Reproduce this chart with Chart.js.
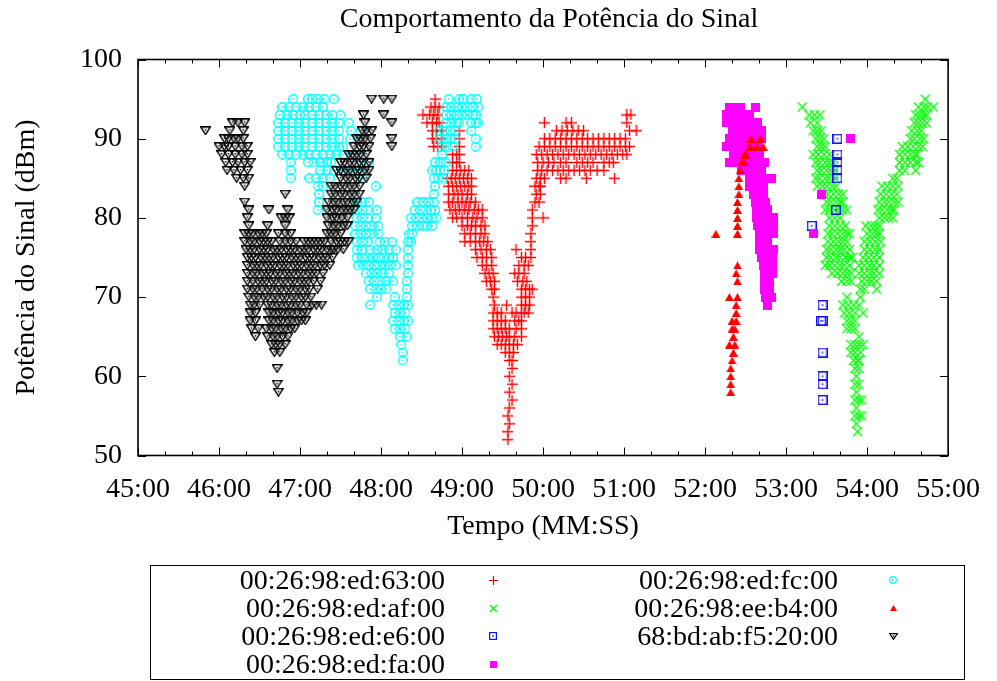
<!DOCTYPE html>
<html>
<head>
<meta charset="utf-8">
<title>Comportamento da Potência do Sinal</title>
<script src="https://cdn.jsdelivr.net/npm/chart.js@4.4.1/dist/chart.umd.min.js"></script>
<style>
  body { margin: 0; background: #fff; }
  #wrap { position: relative; width: 997px; height: 681px; font-family: "Liberation Serif", "Times New Roman", serif; color: #000; }
  #title { position: absolute; left: 138px; width: 822px; top: 1px; height: 34px; line-height: 34px; font-size: 28px; text-align: center; }
  #box { position: absolute; left: 150px; top: 565px; width: 813px; height: 113px; border: 1.5px solid #000; }
  .lbl { position: absolute; height: 34px; line-height: 34px; font-size: 28px; text-align: right; white-space: nowrap; }
  .mk { position: absolute; }
  canvas#chart { position: absolute; left: 0; top: 0; }
</style>
</head>
<body>
<div id="wrap">
  <canvas id="chart" width="997" height="681"></canvas>
  <div id="title">Comportamento da Potência do Sinal</div>
  <div id="box"></div>
</div>
<script>
// time is seconds past the hour (2700 = 45:00), signal in dBm
// each series is a list of [dBm, [times...]] rows
const macs = ['00:26:98:ed:63:00', '00:26:98:ed:af:00', '00:26:98:ed:e6:00', '00:26:98:ed:fa:00',
              '00:26:98:ed:fc:00', '00:26:98:ee:b4:00', '68:bd:ab:f5:20:00'];

const ed63 = [
  [95, [2920]],
  [94, [2917, 2920, 2923]],
  [93, [2911, 2916, 2919, 2922, 3062, 3065]],
  [92, [2914, 2918, 2921, 2923, 3001, 3017, 3021, 3062]],
  [91, [2918, 2921, 2925, 2938, 3010, 3014, 3018, 3022, 3026, 3030, 3064, 3069]],
  [90, [2918, 2921, 2925, 2938, 3001, 3005, 3009, 3013, 3017, 3021, 3025, 3029, 3033, 3037, 3041, 3045, 3049, 3053, 3057, 3061]],
  [89, [2919, 2922, 2925, 2938, 2997, 3001, 3005, 3009, 3013, 3017, 3021, 3025, 3029, 3033, 3037, 3041, 3045, 3049, 3053, 3057, 3061, 3064]],
  [88, [2933, 2936, 2938, 2995, 2999, 3003, 3007, 3011, 3015, 3019, 3023, 3027, 3031, 3035, 3039, 3043, 3047, 3051, 3055, 3059, 3062]],
  [87, [2933, 2936, 2938, 2996, 3000, 3004, 3008, 3013, 3017, 3025, 3029, 3033, 3037, 3045, 3049, 3052]],
  [86, [2933, 2936, 2939, 2942, 2945, 2996, 2999, 3003, 3007, 3011, 3015, 3019, 3023, 3027, 3031, 3035, 3040, 3045]],
  [85, [2929, 2932, 2935, 2938, 2941, 2944, 2947, 2995, 2998, 3001, 3013, 3017, 3032, 3053]],
  [84, [2930, 2933, 2936, 2939, 2942, 2945, 2947, 2994, 2997, 2998]],
  [83, [2930, 2934, 2937, 2940, 2944, 2947, 2995, 2998]],
  [82, [2930, 2933, 2937, 2940, 2943, 2946, 2950, 2994, 2997]],
  [81, [2931, 2935, 2938, 2942, 2945, 2949, 2952, 2955, 2992]],
  [80, [2933, 2936, 2940, 2944, 2948, 2951, 2955, 2992, 3000]],
  [79, [2940, 2944, 2947, 2950, 2954, 2957, 2992]],
  [78, [2942, 2946, 2950, 2954, 2957, 2991]],
  [77, [2942, 2946, 2950, 2953, 2956, 2959, 2991]],
  [76, [2950, 2954, 2958, 2961, 2980, 2991]],
  [75, [2951, 2955, 2958, 2962, 2984, 2987, 2991]],
  [74, [2955, 2958, 2962, 2982, 2986, 2989]],
  [73, [2957, 2960, 2963, 2979, 2982, 2986]],
  [72, [2958, 2961, 2964, 2981, 2985, 2988]],
  [71, [2962, 2964, 2984, 2987, 2990, 2992]],
  [70, [2963, 2984, 2987, 2990]],
  [69, [2964, 2973, 2984, 2987, 2990]],
  [68, [2963, 2966, 2969, 2977, 2980, 2984, 2986, 2989]],
  [67, [2963, 2966, 2969, 2972, 2979, 2982, 2984]],
  [66, [2963, 2966, 2969, 2972, 2975, 2980, 2984]],
  [65, [2964, 2967, 2970, 2973, 2975, 2979, 2984]],
  [64, [2966, 2969, 2972, 2975, 2978, 2981]],
  [63, [2972, 2975, 2978]],
  [62, [2975, 2977]],
  [61, [2977]],
  [60, [2975]],
  [59, [2977]],
  [58, [2975]],
  [57, [2977]],
  [56, [2975]],
  [55, [2974]],
  [54, [2975]],
  [53, [2974]],
  [52, [2974]]
];

const edaf = [
  [95, [3283]],
  [94, [3192, 3278, 3282, 3285, 3289]],
  [93, [3197, 3201, 3205, 3276, 3279, 3282, 3284]],
  [92, [3198, 3203, 3275, 3278, 3281, 3284]],
  [91, [3200, 3203, 3206, 3273, 3277, 3280]],
  [90, [3202, 3205, 3208, 3272, 3275, 3279, 3282]],
  [89, [3203, 3206, 3209, 3266, 3270, 3274, 3278, 3281]],
  [88, [3200, 3204, 3208, 3212, 3264, 3268, 3272, 3275, 3277]],
  [87, [3202, 3205, 3209, 3212, 3215, 3264, 3268, 3272, 3276, 3278]],
  [86, [3203, 3206, 3210, 3213, 3216, 3264, 3268, 3276]],
  [85, [3202, 3205, 3209, 3212, 3216, 3259, 3262]],
  [84, [3203, 3207, 3210, 3214, 3217, 3251, 3255, 3259, 3263]],
  [83, [3208, 3211, 3215, 3219, 3222, 3250, 3254, 3258, 3262]],
  [82, [3210, 3213, 3217, 3220, 3222, 3249, 3253, 3256, 3260, 3263]],
  [81, [3209, 3212, 3216, 3219, 3222, 3225, 3248, 3251, 3255, 3258, 3260]],
  [80, [3212, 3216, 3220, 3249, 3253, 3256, 3259]],
  [79, [3212, 3216, 3220, 3224, 3239, 3243, 3246, 3249]],
  [78, [3211, 3214, 3218, 3222, 3225, 3227, 3240, 3244, 3247, 3249]],
  [77, [3211, 3215, 3219, 3222, 3225, 3238, 3242, 3246, 3250]],
  [76, [3210, 3213, 3217, 3220, 3223, 3227, 3238, 3242, 3246, 3249]],
  [75, [3210, 3213, 3217, 3220, 3224, 3227, 3229, 3237, 3241, 3245, 3249]],
  [74, [3209, 3212, 3216, 3220, 3223, 3227, 3234, 3238, 3242, 3245, 3249]],
  [73, [3214, 3218, 3222, 3225, 3228, 3234, 3238, 3242, 3245, 3249]],
  [72, [3221, 3225, 3228, 3236, 3240, 3243, 3247]],
  [71, [3235, 3238, 3247]],
  [70, [3225, 3235]],
  [69, [3222, 3226, 3230, 3234]],
  [68, [3223, 3227, 3231, 3237]],
  [67, [3225, 3228, 3231]],
  [66, [3225, 3228, 3231]],
  [65, [3234]],
  [64, [3228, 3231, 3234, 3237]],
  [63, [3228, 3231, 3235]],
  [62, [3230, 3233, 3234]],
  [61, [3231, 3234]],
  [60, [3232]],
  [59, [3231, 3234]],
  [58, [3232]],
  [57, [3231, 3234, 3236]],
  [56, [3232]],
  [55, [3231, 3234, 3236]],
  [54, [3232]],
  [53, [3233]]
];

const ede6 = [
  [90, [3218]],
  [88, [3218]],
  [87, [3218]],
  [86, [3218]],
  [85, [3218]],
  [81, [3217]],
  [79, [3199]],
  [69, [3207]],
  [67, [3206, 3207]],
  [63, [3207]],
  [60, [3207]],
  [59, [3207]],
  [57, [3207]]
];

const edfa = [
  [94, [3138, 3142, 3146, 3157]],
  [93, [3136, 3140, 3144, 3148, 3153]],
  [92, [3136, 3140, 3144, 3148, 3152, 3156, 3159]],
  [91, [3140, 3144, 3148, 3152, 3156, 3160, 3162]],
  [90, [3138, 3142, 3146, 3150, 3154, 3158, 3162, 3228]],
  [89, [3136, 3140, 3144, 3148, 3152, 3156, 3159]],
  [88, [3141, 3145, 3149, 3153, 3157, 3160]],
  [87, [3138, 3142, 3146, 3150, 3154, 3158, 3162, 3164]],
  [86, [3147, 3151, 3155, 3159, 3162]],
  [85, [3153, 3157, 3161, 3163, 3169]],
  [84, [3153, 3157, 3161, 3163]],
  [83, [3156, 3160, 3163, 3206]],
  [82, [3157, 3161, 3165]],
  [81, [3158, 3162, 3166]],
  [80, [3158, 3162, 3166, 3171]],
  [79, [3159, 3163, 3167, 3171]],
  [78, [3160, 3164, 3168, 3171, 3200]],
  [77, [3160, 3164, 3166]],
  [76, [3160, 3164, 3168, 3171]],
  [75, [3162, 3166, 3170]],
  [74, [3163, 3167, 3170]],
  [73, [3164, 3168, 3170]],
  [72, [3164, 3168]],
  [71, [3164, 3168]],
  [70, [3165, 3169]],
  [69, [3166]]
];

const edfc = [
  [95, [2815, 2826, 2829, 2833, 2838, 2845, 2930, 2938, 2941, 2947, 2951]],
  [94, [2807, 2812, 2817, 2822, 2827, 2832, 2837, 2928, 2932, 2936, 2940, 2944, 2948, 2952]],
  [93, [2805, 2810, 2815, 2820, 2824, 2829, 2834, 2839, 2844, 2850, 2928, 2932, 2936, 2940, 2944, 2948, 2950]],
  [92, [2804, 2809, 2814, 2819, 2824, 2829, 2834, 2839, 2844, 2849, 2856, 2928, 2932, 2936, 2938, 2947, 2950, 2952]],
  [91, [2804, 2809, 2814, 2819, 2824, 2829, 2834, 2839, 2844, 2849, 2858, 2865, 2923, 2927, 2931, 2935, 2947]],
  [90, [2804, 2809, 2814, 2819, 2824, 2829, 2834, 2839, 2844, 2849, 2857, 2864, 2924, 2928, 2932, 2935, 2950]],
  [89, [2804, 2809, 2814, 2819, 2824, 2829, 2834, 2839, 2844, 2849, 2852, 2925, 2929, 2933, 2950]],
  [88, [2807, 2812, 2817, 2822, 2827, 2832, 2837, 2842, 2847, 2852, 2860, 2925]],
  [87, [2813, 2826, 2830, 2835, 2840, 2843, 2871, 2920, 2924, 2928]],
  [86, [2813, 2835, 2840, 2845, 2852, 2857, 2862, 2867, 2918, 2921, 2924, 2927]],
  [85, [2813, 2827, 2832, 2837, 2842, 2867, 2919, 2922, 2926]],
  [84, [2833, 2837, 2876, 2920]],
  [83, [2834, 2919]],
  [82, [2834, 2862, 2866, 2871, 2907, 2911, 2915, 2919]],
  [81, [2833, 2862, 2866, 2870, 2877, 2905, 2909, 2913, 2917, 2920]],
  [80, [2862, 2866, 2870, 2876, 2902, 2906, 2910, 2914, 2918, 2921]],
  [79, [2861, 2865, 2869, 2873, 2878, 2903, 2907, 2911, 2914, 2918]],
  [78, [2861, 2865, 2869, 2873, 2878, 2901, 2903]],
  [77, [2862, 2866, 2870, 2879, 2883, 2888, 2900, 2902]],
  [76, [2862, 2866, 2872, 2877, 2881, 2886, 2891, 2900]],
  [75, [2862, 2866, 2870, 2874, 2878, 2882, 2886, 2889, 2900]],
  [74, [2863, 2867, 2871, 2875, 2879, 2883, 2887, 2891, 2900]],
  [73, [2869, 2873, 2877, 2881, 2886, 2900]],
  [72, [2871, 2875, 2879, 2884, 2889, 2899]],
  [71, [2872, 2876, 2880, 2884, 2899]],
  [70, [2877, 2890, 2899]],
  [69, [2872, 2889, 2893, 2897, 2900]],
  [68, [2890, 2894, 2898]],
  [67, [2889, 2893, 2897, 2900]],
  [66, [2890, 2894, 2898]],
  [65, [2894, 2899]],
  [64, [2895]],
  [63, [2896]],
  [62, [2896]]
];

const eeb4 = [
  [90, [3154, 3161]],
  [89, [3153, 3158, 3163]],
  [88, [3149, 3150]],
  [87, [3147, 3149]],
  [86, [3146]],
  [85, [3145]],
  [84, [3145]],
  [83, [3145]],
  [82, [3144]],
  [81, [3144]],
  [80, [3144]],
  [79, [3144]],
  [78, [3128, 3144]],
  [74, [3144]],
  [73, [3143]],
  [72, [3144]],
  [70, [3138, 3144]],
  [69, [3143]],
  [68, [3143]],
  [67, [3140, 3143]],
  [66, [3140, 3142]],
  [65, [3141]],
  [64, [3138, 3142]],
  [63, [3141]],
  [62, [3140]],
  [61, [3139]],
  [60, [3139]],
  [59, [3139]],
  [58, [3139]]
];

const f520 = [
  [95, [2873, 2882, 2888]],
  [93, [2867, 2882]],
  [92, [2770, 2774, 2779, 2868, 2888]],
  [91, [2750, 2768, 2778, 2866, 2869, 2873]],
  [90, [2764, 2767, 2771, 2774, 2778, 2862, 2865, 2868, 2872, 2888]],
  [89, [2760, 2764, 2767, 2772, 2777, 2781, 2860, 2864, 2867, 2871, 2888]],
  [88, [2762, 2767, 2772, 2777, 2781, 2856, 2859, 2862, 2865, 2869]],
  [87, [2765, 2770, 2774, 2779, 2783, 2850, 2853, 2857, 2860, 2864, 2867, 2871]],
  [86, [2766, 2771, 2776, 2781, 2847, 2850, 2854, 2857, 2861, 2864, 2868, 2871]],
  [85, [2773, 2778, 2782, 2850, 2854, 2857, 2861, 2864, 2869]],
  [84, [2779, 2843, 2846, 2850, 2853, 2857, 2860, 2864]],
  [83, [2809, 2843, 2846, 2850, 2853, 2857, 2860, 2864]],
  [82, [2779, 2841, 2845, 2848, 2852, 2855, 2859, 2862]],
  [81, [2782, 2797, 2811, 2840, 2844, 2847, 2851, 2854, 2857, 2860]],
  [80, [2781, 2806, 2809, 2812, 2840, 2844, 2847, 2851, 2855]],
  [79, [2782, 2796, 2809, 2841, 2845, 2848, 2852, 2855]],
  [78, [2779, 2782, 2785, 2789, 2792, 2795, 2804, 2809, 2813, 2840, 2843, 2846, 2850]],
  [77, [2779, 2783, 2786, 2790, 2793, 2796, 2799, 2805, 2809, 2813, 2817, 2823, 2826, 2829, 2832, 2835, 2838, 2843, 2847, 2850, 2853, 2856]],
  [76, [2780, 2783, 2786, 2790, 2793, 2796, 2800, 2803, 2806, 2810, 2813, 2816, 2820, 2823, 2826, 2830, 2833, 2836, 2840, 2843, 2845, 2848, 2852]],
  [75, [2781, 2784, 2787, 2791, 2794, 2797, 2800, 2804, 2807, 2810, 2814, 2817, 2820, 2824, 2827, 2830, 2834, 2837, 2840, 2844]],
  [74, [2781, 2785, 2788, 2791, 2795, 2798, 2801, 2805, 2808, 2811, 2815, 2818, 2821, 2825, 2828, 2831, 2835, 2838, 2842]],
  [73, [2781, 2785, 2788, 2792, 2795, 2798, 2802, 2805, 2809, 2812, 2815, 2819, 2822, 2826, 2829, 2832, 2837]],
  [72, [2781, 2785, 2789, 2792, 2795, 2799, 2802, 2806, 2809, 2813, 2816, 2820, 2823, 2826, 2830, 2835]],
  [71, [2781, 2785, 2788, 2792, 2796, 2799, 2803, 2806, 2810, 2813, 2817, 2820, 2824, 2827, 2833]],
  [70, [2782, 2786, 2789, 2793, 2796, 2800, 2803, 2807, 2810, 2814, 2817, 2821, 2824, 2828]],
  [69, [2783, 2786, 2790, 2796, 2799, 2803, 2806, 2810, 2813, 2817, 2820, 2825, 2829, 2832, 2836]],
  [68, [2783, 2787, 2797, 2800, 2804, 2807, 2811, 2814, 2818, 2822, 2825]],
  [67, [2783, 2787, 2797, 2800, 2804, 2807, 2811, 2814, 2818, 2821, 2824]],
  [66, [2784, 2789, 2795, 2799, 2802, 2806, 2809, 2813, 2816]],
  [65, [2787, 2796, 2800, 2803, 2807, 2811]],
  [64, [2799, 2802, 2805, 2809]],
  [63, [2801, 2805]],
  [61, [2803]],
  [59, [2803]],
  [58, [2804]]
];

const toPoints = rows => rows.flatMap(([y, ts]) => ts.map(x => ({ x, y })));

// small bitmaps used as point markers; s = marker size in px, lw = stroke width
function marker(w, h, draw) {
  const c = document.createElement('canvas');
  c.width = w; c.height = h;
  const g = c.getContext('2d');
  draw(g);
  return c;
}
function makeMarks(s, lw) {
  const c = s / 2;
  return [
    marker(s, s, g => {            // red plus
      g.strokeStyle = '#ff0000'; g.lineWidth = lw;
      g.beginPath(); g.moveTo(0, c); g.lineTo(s, c); g.moveTo(c, 0); g.lineTo(c, s); g.stroke();
    }),
    marker(s, s, g => {            // green x
      g.strokeStyle = '#00ff00'; g.lineWidth = lw;
      g.beginPath(); g.moveTo(1, 1); g.lineTo(s - 1, s - 1); g.moveTo(s - 1, 1); g.lineTo(1, s - 1); g.stroke();
    }),
    marker(s - 1, s - 1, g => {    // blue open box with centre dot
      g.strokeStyle = '#1010ff'; g.lineWidth = lw;
      g.strokeRect(lw / 2, lw / 2, s - 1 - lw, s - 1 - lw);
      g.fillStyle = '#0000ff'; g.fillRect((s - 1) / 2 - 0.75, (s - 1) / 2 - 0.75, 1.5, 1.5);
    }),
    marker(s - 2, s - 2, g => {    // magenta filled square
      g.fillStyle = '#ff00ff'; g.fillRect(0, 0, s - 2, s - 2);
    }),
    marker(s - 1, s - 1, g => {    // cyan open circle with centre dot
      const r = (s - 1) / 2;
      g.strokeStyle = '#00ffff'; g.lineWidth = lw;
      g.beginPath(); g.arc(r, r, r - lw / 2, 0, Math.PI * 2); g.stroke();
      g.fillStyle = '#00e0e0'; g.fillRect(r - 0.75, r - 0.75, 1.5, 1.5);
    }),
    marker(s - 2, s - 3, g => {    // red filled triangle
      g.fillStyle = '#ff0000';
      g.beginPath(); g.moveTo((s - 2) / 2, 0); g.lineTo(s - 2, s - 3); g.lineTo(0, s - 3); g.closePath(); g.fill();
    }),
    marker(s, s - 2, g => {        // black open down triangle with centre dot
      g.strokeStyle = '#000'; g.lineWidth = lw;
      g.beginPath(); g.moveTo(lw / 2, lw / 2); g.lineTo(s - lw / 2, lw / 2); g.lineTo(c, s - 2 - lw / 2); g.closePath(); g.stroke();
      g.fillStyle = '#000'; g.fillRect(c - 0.75, (s - 2) / 3, 1.5, 1.5);
    })
  ];
}

const series = [ed63, edaf, ede6, edfa, edfc, eeb4, f520];
const marks = makeMarks(11, 1.4);
const keyMarks = makeMarks(9, 1.2);

// inward tick marks and the plot border
const frame = {
  id: 'frame',
  afterDatasetsDraw(chart) {
    const { ctx, chartArea: a, scales: { x, y } } = chart;
    ctx.save();
    ctx.strokeStyle = '#000';
    ctx.lineWidth = 1;
    ctx.beginPath();
    x.ticks.forEach(t => {
      const px = Math.round(x.getPixelForValue(t.value)) + 0.5;
      const len = t.value % 60 === 0 ? 8 : 4;
      ctx.moveTo(px, a.bottom); ctx.lineTo(px, a.bottom - len);
      ctx.moveTo(px, a.top); ctx.lineTo(px, a.top + len);
    });
    y.ticks.forEach(t => {
      const py = Math.round(y.getPixelForValue(t.value)) + 0.5;
      ctx.moveTo(a.left, py); ctx.lineTo(a.left + 8, py);
      ctx.moveTo(a.right, py); ctx.lineTo(a.right - 8, py);
    });
    ctx.stroke();
    ctx.lineWidth = 1.6;
    ctx.strokeRect(a.left, a.top, a.right - a.left, a.bottom - a.top);
    ctx.restore();
  }
};

const font = { family: '"Liberation Serif", "Times New Roman", serif', size: 28 };
Chart.defaults.color = '#000';

new Chart(document.getElementById('chart'), {
  type: 'scatter',
  data: {
    datasets: series.map((rows, i) => ({
      label: macs[i],
      data: toPoints(rows),
      pointStyle: marks[i],
      pointRadius: 5,
      order: series.length - i
    }))
  },
  options: {
    responsive: false,
    animation: false,
    events: [],
    layout: { padding: { left: 0, right: 37, top: 59.5, bottom: 135.5 } },
    plugins: { legend: { display: false }, tooltip: { enabled: false } },
    scales: {
      x: {
        type: 'linear', min: 2700, max: 3300,
        grid: { display: false, drawTicks: false },
        border: { display: false },
        ticks: {
          stepSize: 20, autoSkip: false, maxRotation: 0, padding: 17, font,
          callback: v => v % 60 === 0 ? Math.floor(v / 60) + ':00' : ''
        },
        title: { display: true, text: 'Tempo (MM:SS)', font, padding: { top: 2, bottom: 2 } },
        afterFit: s => { s.height = 90; }
      },
      y: {
        min: 50, max: 100,
        grid: { display: false, drawTicks: false },
        border: { display: false },
        ticks: { stepSize: 10, padding: 16, font },
        title: { display: true, text: 'Potência do Sinal (dBm)', font, padding: { top: 10, bottom: 0 } },
        afterFit: s => { s.width = 138; }
      }
    }
  },
  plugins: [frame]
});

// key box under the plot: two columns, label then marker
const wrap = document.getElementById('wrap');
const rowY = [580, 608, 636, 664];
macs.forEach((mac, i) => {
  const col = i < 4 ? 0 : 1;
  const row = i < 4 ? i : i - 4;
  const textRight = col ? 838 : 445;
  const markX = col ? 893 : 493;
  const lbl = document.createElement('div');
  lbl.className = 'lbl';
  lbl.textContent = mac;
  lbl.style.left = (textRight - 400) + 'px';
  lbl.style.width = '400px';
  lbl.style.top = (rowY[row] - 17) + 'px';
  wrap.appendChild(lbl);
  const m = keyMarks[i];
  m.className = 'mk';
  m.style.left = (markX - m.width / 2) + 'px';
  m.style.top = (rowY[row] - m.height / 2) + 'px';
  wrap.appendChild(m);
});
</script>
</body>
</html>
